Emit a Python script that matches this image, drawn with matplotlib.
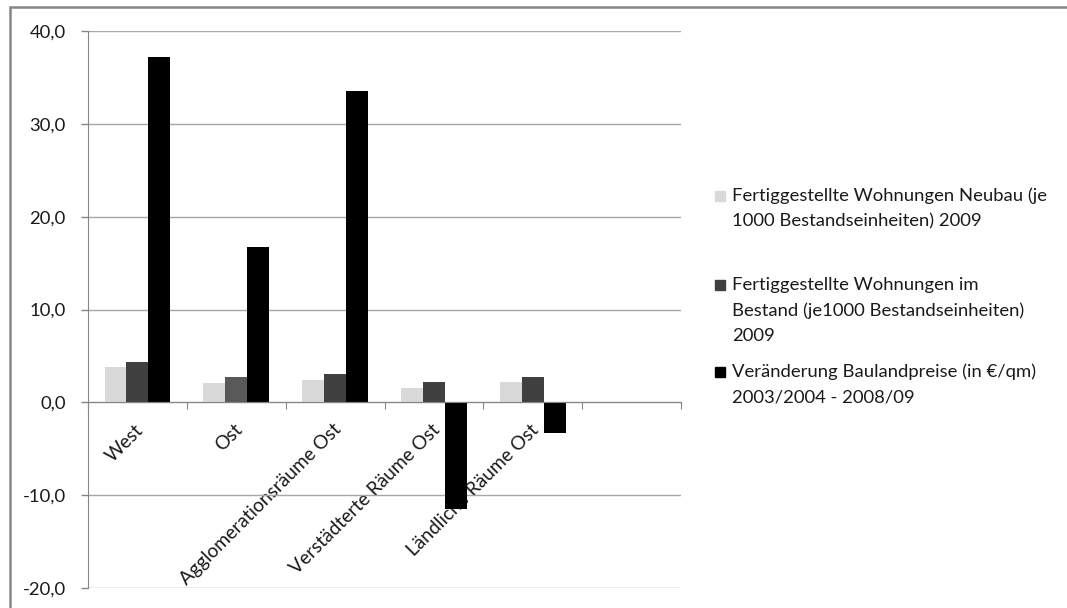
import numpy as np
import matplotlib
matplotlib.use("Agg")
import matplotlib.pyplot as plt
from matplotlib.patches import Rectangle
from matplotlib.ticker import FixedLocator, FuncFormatter
from matplotlib.transforms import ScaledTranslation

plt.rcParams['font.family'] = ['Lato', 'DejaVu Sans']

# Daten
kategorien = ['West', 'Ost', 'Agglomerationsräume Ost', 'Verstädterte Räume Ost', 'Ländliche Räume Ost']
neubau = [3.8, 2.1, 2.4, 1.5, 2.2]
bestand = [4.3, 2.7, 3.1, 2.2, 2.7]
baulandpreise = [37.2, 16.7, 33.5, -11.5, -3.3]

serien = [
    'Fertiggestellte Wohnungen Neubau (je\n1000 Bestandseinheiten) 2009',
    'Fertiggestellte Wohnungen im\nBestand (je1000 Bestandseinheiten)\n2009',
    'Veränderung Baulandpreise (in €/qm)\n2003/2004 - 2008/09',
]
farben = ['#d9d9d9', '#404040', '#000000']
textfarbe = '#1a1a1a'
fs = 13.3

W, H = 1067, 608
fig = plt.figure(figsize=(W / 100, H / 100), dpi=100)
ax = fig.add_axes([88 / W, 1 - 588 / H, (681 - 88) / W, (588 - 31) / H])

x = np.arange(len(kategorien))
b = 0.222
ax.bar(x - b, neubau, b, color=farben[0], zorder=3)
# Ost-Balken im Bestand ist im Original etwas heller
bestand_farben = [farben[1], '#595959', farben[1], farben[1], farben[1]]
ax.bar(x, bestand, b, color=bestand_farben, zorder=3)
ax.bar(x + b, baulandpreise, b, color=farben[2], zorder=3)

ax.set_xlim(-0.5, 5.5)
ax.set_ylim(-20, 40)

# y-Achse
ax.set_yticks(np.arange(-20, 41, 10))
ax.yaxis.set_major_formatter(FuncFormatter(lambda v, p: f'{v:.1f}'.replace('.', ',')))
ax.yaxis.grid(True, color='#a6a6a6', linewidth=1.0, zorder=0)
ax.tick_params(axis='y', direction='out', length=5, width=1, color='#868686',
               pad=11, labelsize=fs, labelcolor=textfarbe)

# x-Achse bei 0
for s in ['top', 'right']:
    ax.spines[s].set_visible(False)
ax.spines['left'].set_color('#868686')
ax.spines['bottom'].set_position(('data', 0))
ax.spines['bottom'].set_color('#868686')
ax.spines['bottom'].set_zorder(4)
ax.xaxis.set_major_locator(FixedLocator(np.arange(-0.5, 5.6, 1)))
ax.xaxis.set_major_formatter(FuncFormatter(lambda v, p: ''))
ax.set_xticks(x, minor=True)
ax.set_xticklabels(kategorien, minor=True, rotation=45, ha='right',
                   rotation_mode='anchor', fontsize=13.8, color=textfarbe)
ax.tick_params(axis='x', which='major', direction='out', length=5, color='#868686')
ax.tick_params(axis='x', which='minor', length=0, pad=12)
for lbl in ax.get_xticklabels(minor=True):
    lbl.set_transform(lbl.get_transform() + ScaledTranslation(-0.03, -0.02, fig.dpi_scale_trans))

# Legende von Hand
zeilen_y = [196, 285, 372]
for farbe, text, y0 in zip(farben, serien, zeilen_y):
    fig.patches.append(Rectangle((715 / W, 1 - (y0 + 5) / H), 10 / W, 10 / H,
                                 transform=fig.transFigure, color=farbe))
    for i, zeile in enumerate(text.split('\n')):
        fig.text(732 / W, 1 - (y0 + i * 25.5) / H, zeile, fontsize=fs,
                 color=textfarbe, va='center', ha='left')

# Rahmen
fig.patches.append(Rectangle((10 / W, -0.1), 1.2, 1 - 7 / H + 0.1, transform=fig.transFigure,
                             fill=False, edgecolor='#868686', linewidth=1.8))

fig.savefig('out.png', dpi=100)
